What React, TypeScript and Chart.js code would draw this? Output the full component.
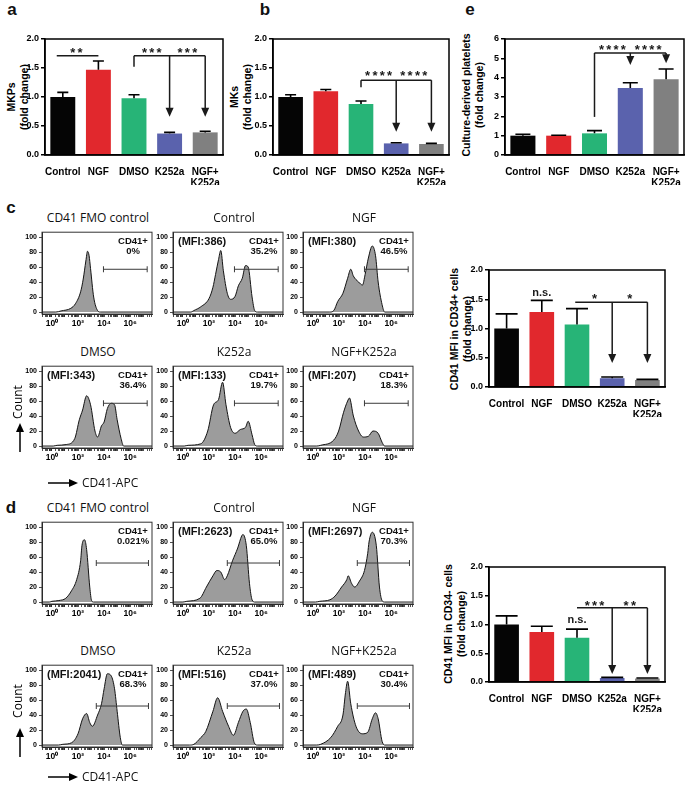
import React, { useEffect, useRef } from 'react';
import { Chart, registerables } from 'chart.js';

Chart.register(...registerables);

const SANS = '"Liberation Sans", Arial, Helvetica, sans-serif';
const LIGHT = '"Open Sans", "Noto Sans", sans-serif';
Chart.defaults.font.family = SANS;

// ---------------- bar chart data ----------------
const categories: (string | string[])[] = ['Control', 'NGF', 'DMSO', 'K252a', ['NGF+', 'K252a']];
const barColors = ['#050505', '#E1282D', '#27B477', '#5A62AD', '#808080'];

const mkpValues = [1.0, 1.47, 0.98, 0.37, 0.39];
const mkpErrors = [0.08, 0.15, 0.06, 0.02, 0.02];
const mkValues = [1.0, 1.1, 0.88, 0.2, 0.19];
const mkErrors = [0.04, 0.03, 0.05, 0.01, 0.01];
const plateletValues = [1.0, 1.0, 1.12, 3.47, 3.92];
const plateletErrors = [0.07, 0.02, 0.14, 0.27, 0.53];
const mfiPosValues = [1.0, 1.28, 1.07, 0.15, 0.12];
const mfiPosErrors = [0.25, 0.2, 0.27, 0.02, 0.01];
const mfiNegValues = [1.0, 0.87, 0.77, 0.07, 0.06];
const mfiNegErrors = [0.15, 0.1, 0.15, 0.01, 0.01];

const foldTicks = [0, 0.5, 1.0, 1.5, 2.0];
const plateletTicks = [0, 1, 2, 3, 4, 5, 6];

// ---------------- histogram data ([log10 intensity, count]) ----------------
const histXTickValues = [1, 100, 10000, 1000000];
const histXTickLabels = ['10\u2070', '10\u00B2', '10\u2074', '10\u2076'];
const histYTicks = [0, 20, 40, 60, 80, 100];

const cFmoHist = [[-0.8, 0], [0.3, 0], [0.7, 1.5], [1.45, 5], [1.8, 11], [2.2, 27], [2.4, 44], [2.6, 68], [2.73, 81], [2.85, 75], [2.96, 58], [3.2, 20], [3.5, 2], [3.7, 0], [7.7, 0]];
const cControlHist = [[-0.8, 0], [0.6, 0], [0.84, 2], [1.37, 7], [2.0, 18], [2.3, 33], [2.5, 50], [2.73, 70], [2.9, 82], [3.1, 55], [3.4, 25], [3.65, 17], [4.0, 21], [4.25, 35], [4.55, 45], [4.8, 62], [5.0, 60], [5.3, 20], [5.5, 2], [5.7, 0], [7.7, 0]];
const cNgfHist = [[-0.8, 0], [1.3, 0], [1.6, 2], [1.9, 14], [2.3, 25], [2.66, 45], [2.9, 57], [3.1, 48], [3.5, 40], [3.8, 36], [4.0, 50], [4.25, 72], [4.55, 88], [4.8, 75], [5.0, 40], [5.3, 10], [5.5, 0], [7.7, 0]];
const cDmsoHist = [[-0.8, 0], [0.1, 0], [0.4, 1], [1.1, 2], [1.75, 10], [2.1, 35], [2.35, 48], [2.66, 67], [2.96, 55], [3.3, 20], [3.5, 12], [3.8, 27], [4.0, 32], [4.25, 50], [4.55, 57], [4.8, 55], [5.0, 35], [5.3, 10], [5.5, 0], [7.7, 0]];
const cK252aHist = [[-0.8, 0], [0.1, 0], [0.4, 1], [1.37, 3], [1.9, 20], [2.35, 55], [2.73, 62], [3.04, 85], [3.3, 55], [3.65, 25], [4.0, 17], [4.4, 22], [4.8, 25], [5.0, 33], [5.3, 15], [5.5, 2], [5.7, 0], [7.7, 0]];
const cNgfK252aHist = [[-0.8, 0], [0.3, 0], [0.6, 1], [1.6, 8], [1.97, 20], [2.35, 45], [2.66, 60], [2.8, 64], [3.1, 40], [3.5, 20], [3.87, 12], [4.25, 13], [4.6, 20], [5.0, 17], [5.3, 5], [5.5, 0], [7.7, 0]];

const dFmoHist = [[-0.8, 0], [-0.2, 0], [0, 1], [0.53, 2], [1.06, 5], [1.5, 15], [1.9, 30], [2.2, 55], [2.3, 75], [2.5, 83], [2.66, 70], [2.9, 20], [3.04, 2], [3.2, 0], [7.7, 0]];
const dControlHist = [[-0.8, 0], [0.0, 0], [0.3, 1], [1.3, 5], [1.8, 20], [2.3, 35], [2.6, 42], [2.9, 40], [3.2, 30], [3.4, 35], [3.8, 55], [4.2, 72], [4.5, 88], [4.6, 90], [4.86, 75], [5.1, 25], [5.3, 3], [5.5, 0], [7.7, 0]];
const dNgfHist = [[-0.8, 0], [0.2, 0], [0.53, 1], [1.3, 3], [1.7, 8], [2.2, 20], [2.6, 30], [2.7, 35], [2.96, 25], [3.2, 20], [3.57, 28], [3.95, 42], [4.2, 65], [4.3, 80], [4.55, 93], [4.86, 75], [5.1, 20], [5.3, 2], [5.5, 0], [7.7, 0]];
const dDmsoHist = [[-0.8, 0], [0.5, 0], [0.84, 1], [1.5, 3], [2.0, 15], [2.35, 35], [2.66, 42], [2.9, 30], [3.1, 25], [3.5, 40], [3.8, 55], [4.0, 75], [4.25, 95], [4.55, 92], [4.8, 75], [5.0, 45], [5.24, 10], [5.4, 0], [7.7, 0]];
const dK252aHist = [[-0.8, 0], [0.5, 0], [0.84, 1], [1.37, 10], [1.75, 18], [2.3, 45], [2.66, 63], [3.04, 45], [3.5, 25], [3.87, 13], [4.25, 30], [4.6, 45], [4.86, 48], [5.16, 30], [5.47, 3], [5.7, 0], [7.7, 0]];
const dNgfK252aHist = [[-0.8, 0], [0.3, 0], [0.6, 1], [1.37, 10], [1.9, 25], [2.3, 40], [2.5, 70], [2.66, 85], [2.9, 55], [3.3, 25], [3.8, 15], [4.2, 17], [4.55, 35], [4.8, 43], [5.0, 35], [5.3, 5], [5.5, 0], [7.7, 0]];

const cMfi = [null, 386, 380, 343, 133, 207];
const cPct = ['0%', '35.2%', '46.5%', '36.4%', '19.7%', '18.3%'];
const dMfi = [null, 2623, 2697, 2041, 516, 489];
const dPct = ['0.021%', '65.0%', '70.3%', '68.3%', '37.0%', '30.4%'];
const histTitles = ['CD41 FMO control', 'Control', 'NGF', 'DMSO', 'K252a', 'NGF+K252a'];
// gate: [start log10, end log10, level]
const cGate = [3.95, 7.3, 57];
const dGate = [3.4, 7.4, 52];

// ---------------- plugins ----------------
const framePlugin = {
  id: 'frame',
  afterDraw(chart: any, _a: any, o: any) {
    const { ctx, chartArea: a } = chart;
    ctx.save();
    ctx.strokeStyle = o.color || '#000';
    ctx.lineWidth = o.width || 1.5;
    ctx.strokeRect(a.left, a.top, a.right - a.left, a.bottom - a.top);
    ctx.restore();
  },
};

const errPlugin = {
  id: 'errbars',
  afterDatasetsDraw(chart: any, _a: any, o: any) {
    if (!o.errors) return;
    const ctx = chart.ctx;
    const ys = chart.scales.y;
    const meta = chart.getDatasetMeta(0);
    const vals = chart.data.datasets[0].data;
    ctx.save();
    ctx.strokeStyle = '#000';
    ctx.lineWidth = 1.6;
    meta.data.forEach((bar: any, i: number) => {
      const v = vals[i];
      const e = o.errors[i];
      const x = bar.x;
      const y0 = ys.getPixelForValue(v);
      const y1 = ys.getPixelForValue(v + e);
      ctx.beginPath();
      ctx.moveTo(x, y0);
      ctx.lineTo(x, y1);
      ctx.moveTo(x - o.cap / 2, y1);
      ctx.lineTo(x + o.cap / 2, y1);
      ctx.stroke();
    });
    ctx.restore();
  },
};

const sigPlugin = {
  id: 'sig',
  afterDatasetsDraw(chart: any, _a: any, o: any) {
    const items = o.items || [];
    const xs = chart.scales.x;
    const ys = chart.scales.y;
    const ctx = chart.ctx;
    ctx.save();
    ctx.strokeStyle = '#1a1a1a';
    ctx.fillStyle = '#1a1a1a';
    ctx.lineWidth = 1.5;
    for (const a of items) {
      if (a.t === 'line') {
        const y = ys.getPixelForValue(a.y);
        ctx.beginPath();
        ctx.moveTo(xs.getPixelForValue(a.x0), y);
        ctx.lineTo(xs.getPixelForValue(a.x1), y);
        ctx.stroke();
      } else if (a.t === 'vline') {
        const x = xs.getPixelForValue(a.x);
        ctx.beginPath();
        ctx.moveTo(x, ys.getPixelForValue(a.y0));
        ctx.lineTo(x, ys.getPixelForValue(a.y1));
        ctx.stroke();
      } else if (a.t === 'arrow') {
        const x = xs.getPixelForValue(a.x);
        const y0 = ys.getPixelForValue(a.y0);
        const y1 = ys.getPixelForValue(a.y1);
        ctx.beginPath();
        ctx.moveTo(x, y0);
        ctx.lineTo(x, y1 - 6);
        ctx.stroke();
        ctx.beginPath();
        ctx.moveTo(x - 4, y1 - 9);
        ctx.lineTo(x + 4, y1 - 9);
        ctx.lineTo(x, y1);
        ctx.closePath();
        ctx.fill();
      } else if (a.t === 'stars') {
        const cx = xs.getPixelForValue(a.x);
        const y = ys.getPixelForValue(a.y);
        ctx.font = `bold 13px ${SANS}`;
        ctx.textAlign = 'center';
        ctx.textBaseline = 'middle';
        for (let k = 0; k < a.n; k++) {
          ctx.fillText('*', cx + (k - (a.n - 1) / 2) * 7.3, y + 3);
        }
      } else if (a.t === 'text') {
        const cx = xs.getPixelForValue(a.x);
        const y = ys.getPixelForValue(a.y);
        ctx.font = `bold 11px ${SANS}`;
        ctx.textAlign = 'center';
        ctx.textBaseline = 'middle';
        ctx.fillText(a.s, cx, y);
      }
    }
    ctx.restore();
  },
};

const histTextPlugin = {
  id: 'histText',
  afterDatasetsDraw(chart: any, _a: any, o: any) {
    const { ctx, chartArea: a } = chart;
    const xs = chart.scales.x;
    const ys = chart.scales.y;
    ctx.save();
    const gy = ys.getPixelForValue(o.gate[2]);
    const gx0 = xs.getPixelForValue(Math.pow(10, o.gate[0]));
    const gx1 = xs.getPixelForValue(Math.pow(10, o.gate[1]));
    ctx.strokeStyle = '#3a3a3a';
    ctx.lineWidth = 1;
    ctx.beginPath();
    ctx.moveTo(gx0, gy);
    ctx.lineTo(gx1, gy);
    ctx.moveTo(gx0, gy - 3);
    ctx.lineTo(gx0, gy + 3);
    ctx.moveTo(gx1, gy - 3);
    ctx.lineTo(gx1, gy + 3);
    ctx.stroke();
    ctx.fillStyle = '#111';
    ctx.textBaseline = 'middle';
    ctx.textAlign = 'center';
    ctx.font = `bold 9.5px ${SANS}`;
    ctx.fillText('CD41+', a.right - 19, a.top + 9);
    ctx.fillText(o.pct, a.right - 19, a.top + 19);
    if (o.mfi) {
      ctx.textAlign = 'left';
      ctx.font = `bold 11px ${SANS}`;
      ctx.fillText(`(MFI:${o.mfi})`, a.left + 5, a.top + 10);
    }
    ctx.restore();
  },
};

// ---------------- bar panels ----------------
type BarSpec = {
  L: number; R: number; T: number; B: number;
  values: number[]; errors: number[]; ticks: number[]; decimals: number; cap: number; anns: any[];
};

const BYW = 30, BXH = 30, BPT = 8, BPR = 2;

function makeBar(canvas: HTMLCanvasElement, p: BarSpec) {
  return new Chart(canvas, {
    type: 'bar',
    data: {
      labels: categories as any,
      datasets: [{ data: p.values, backgroundColor: barColors, borderWidth: 0, barPercentage: 0.7, categoryPercentage: 1 }],
    },
    options: {
      responsive: false,
      animation: false,
      devicePixelRatio: 1,
      layout: { autoPadding: false, padding: { left: 0, top: BPT, right: BPR, bottom: 0 } },
      plugins: {
        legend: { display: false },
        tooltip: { enabled: false },
        errbars: { errors: p.errors, cap: p.cap },
        sig: { items: p.anns },
        frame: { width: 1.5, color: '#000' },
      } as any,
      scales: {
        x: {
          grid: { display: false },
          border: { color: '#000', width: 1.5 },
          ticks: { color: '#000', font: { family: SANS, size: 10, weight: 'bold', lineHeight: 1.1 }, padding: 4, maxRotation: 0, autoSkip: false },
          afterFit: (s: any) => { s.height = BXH; },
        },
        y: {
          min: p.ticks[0],
          max: p.ticks[p.ticks.length - 1],
          afterBuildTicks: (s: any) => { s.ticks = p.ticks.map((v) => ({ value: v })); },
          ticks: { color: '#000', font: { family: SANS, size: 9, weight: 'bold' }, padding: 2, callback: (v: any) => Number(v).toFixed(p.decimals) },
          grid: { drawOnChartArea: false, drawTicks: true, tickLength: 4, color: '#000', lineWidth: 1.5 },
          border: { color: '#000', width: 1.5 },
          afterFit: (s: any) => { s.width = BYW; },
        },
      } as any,
    },
    plugins: [framePlugin, errPlugin, sigPlugin],
  } as any);
}

function BarPanel({ p }: { p: BarSpec }) {
  const ref = useRef<HTMLCanvasElement>(null);
  const w = BYW + (p.R - p.L) + BPR;
  const h = BPT + (p.B - p.T) + BXH;
  useEffect(() => {
    const c = makeBar(ref.current!, p);
    return () => c.destroy();
  }, []);
  return <canvas ref={ref} width={w} height={h} style={{ position: 'absolute', left: p.L - BYW, top: p.T - BPT, width: w, height: h }} />;
}

const barA: BarSpec = {
  L: 45, R: 223, T: 39, B: 155, values: mkpValues, errors: mkpErrors, ticks: foldTicks, decimals: 1, cap: 11,
  anns: [
    { t: 'line', x0: -0.17, x1: 1.0, y: 1.71 },
    { t: 'stars', x: 0.38, y: 1.81, n: 2 },
    { t: 'vline', x: 2, y0: 1.52, y1: 1.71 },
    { t: 'line', x0: 2, x1: 4, y: 1.71 },
    { t: 'arrow', x: 3, y0: 1.71, y1: 0.66 },
    { t: 'arrow', x: 4, y0: 1.71, y1: 0.66 },
    { t: 'stars', x: 2.5, y: 1.81, n: 3 },
    { t: 'stars', x: 3.5, y: 1.81, n: 3 },
  ],
};
const barB: BarSpec = {
  L: 273, R: 449, T: 39, B: 155, values: mkValues, errors: mkErrors, ticks: foldTicks, decimals: 1, cap: 11,
  anns: [
    { t: 'vline', x: 2, y0: 1.17, y1: 1.29 },
    { t: 'line', x0: 2, x1: 4, y: 1.29 },
    { t: 'arrow', x: 3, y0: 1.29, y1: 0.4 },
    { t: 'arrow', x: 4, y0: 1.29, y1: 0.4 },
    { t: 'stars', x: 2.5, y: 1.41, n: 4 },
    { t: 'stars', x: 3.5, y: 1.41, n: 4 },
  ],
};
const barE: BarSpec = {
  L: 505, R: 684, T: 39, B: 155, values: plateletValues, errors: plateletErrors, ticks: plateletTicks, decimals: 0, cap: 15,
  anns: [
    { t: 'vline', x: 2, y0: 1.97, y1: 5.28 },
    { t: 'line', x0: 2, x1: 4, y: 5.28 },
    { t: 'arrow', x: 3, y0: 5.28, y1: 4.65 },
    { t: 'arrow', x: 4, y0: 5.28, y1: 4.75 },
    { t: 'stars', x: 2.5, y: 5.55, n: 4 },
    { t: 'stars', x: 3.5, y: 5.55, n: 4 },
  ],
};
const barC: BarSpec = {
  L: 489, R: 665, T: 270, B: 387, values: mfiPosValues, errors: mfiPosErrors, ticks: foldTicks, decimals: 1, cap: 22,
  anns: [
    { t: 'text', x: 1, y: 1.6, s: 'n.s.' },
    { t: 'line', x0: 1.95, x1: 4, y: 1.45 },
    { t: 'arrow', x: 3, y0: 1.45, y1: 0.41 },
    { t: 'arrow', x: 4, y0: 1.45, y1: 0.41 },
    { t: 'stars', x: 2.5, y: 1.54, n: 1 },
    { t: 'stars', x: 3.5, y: 1.54, n: 1 },
  ],
};
const barD: BarSpec = {
  L: 489, R: 665, T: 567, B: 682, values: mfiNegValues, errors: mfiNegErrors, ticks: foldTicks, decimals: 1, cap: 22,
  anns: [
    { t: 'text', x: 2, y: 1.08, s: 'n.s.' },
    { t: 'line', x0: 2, x1: 4, y: 1.29 },
    { t: 'arrow', x: 3, y0: 1.29, y1: 0.14 },
    { t: 'arrow', x: 4, y0: 1.29, y1: 0.14 },
    { t: 'stars', x: 2.5, y: 1.37, n: 3 },
    { t: 'stars', x: 3.5, y: 1.37, n: 2 },
  ],
};

// ---------------- histogram panels ----------------
const HYW = 22, HXH = 20, HPT = 3, HPR = 6, HBW = 110, HBH = 85;
const HIST_MIN = Math.pow(10, -0.76);
const HIST_MAX = Math.pow(10, 7.67);

type HistSpec = { L: number; T: number; pts: number[][]; mfi: number | null; pct: string; gate: number[] };

function makeHist(canvas: HTMLCanvasElement, h: HistSpec) {
  return new Chart(canvas, {
    type: 'line',
    data: {
      datasets: [{
        data: h.pts.map(([d, c]) => ({ x: Math.pow(10, d), y: c })),
        borderColor: '#151515',
        borderWidth: 1,
        backgroundColor: '#9c9c9c',
        fill: 'origin',
        pointRadius: 0,
        cubicInterpolationMode: 'monotone',
      }],
    },
    options: {
      responsive: false,
      animation: false,
      devicePixelRatio: 1,
      layout: { autoPadding: false, padding: { left: 0, top: HPT, right: HPR, bottom: 0 } },
      plugins: {
        legend: { display: false },
        tooltip: { enabled: false },
        frame: { width: 1, color: '#333' },
        histText: { gate: h.gate, mfi: h.mfi, pct: h.pct },
      } as any,
      scales: {
        x: {
          type: 'logarithmic',
          min: HIST_MIN,
          max: HIST_MAX,
          afterBuildTicks: (s: any) => {
            const t: any[] = [];
            for (let k = -1; k <= 7; k++) {
              for (let m = 1; m <= 9; m++) {
                const v = m * Math.pow(10, k);
                if (v >= HIST_MIN && v <= HIST_MAX) t.push({ value: v });
              }
            }
            s.ticks = t;
          },
          ticks: {
            autoSkip: false,
            maxRotation: 0,
            padding: 2,
            color: '#000',
            font: { family: SANS, size: 8.5, weight: 'bold' },
            callback: (v: any) => {
              const i = histXTickValues.findIndex((tv) => Math.abs(Math.log10(Number(v)) - Math.log10(tv)) < 1e-6);
              return i >= 0 ? histXTickLabels[i] : '';
            },
          },
          grid: { drawOnChartArea: false, drawTicks: true, tickLength: 3, color: '#222', lineWidth: 0.8 },
          border: { color: '#222', width: 1 },
          afterFit: (s: any) => { s.height = HXH; },
        },
        y: {
          min: -2.6,
          max: 106.4,
          afterBuildTicks: (s: any) => {
            const t: any[] = [];
            for (let v = 0; v <= 100; v += 10) t.push({ value: v });
            s.ticks = t;
          },
          ticks: {
            color: '#000',
            padding: 2,
            font: { family: SANS, size: 7, weight: 'bold' },
            callback: (v: any) => (histYTicks.includes(Number(v)) ? String(v) : ''),
          },
          grid: { drawOnChartArea: false, drawTicks: true, tickLength: 3, color: '#222', lineWidth: 0.8 },
          border: { color: '#222', width: 1 },
          afterFit: (s: any) => { s.width = HYW; },
        },
      } as any,
    },
    plugins: [framePlugin, histTextPlugin],
  } as any);
}

function HistPanel({ h }: { h: HistSpec }) {
  const ref = useRef<HTMLCanvasElement>(null);
  const w = HYW + HBW + HPR;
  const hh = HPT + HBH + HXH;
  useEffect(() => {
    const c = makeHist(ref.current!, h);
    return () => c.destroy();
  }, []);
  return <canvas ref={ref} width={w} height={hh} style={{ position: 'absolute', left: h.L - HYW, top: h.T - HPT, width: w, height: hh }} />;
}

const colLefts = [42, 173, 303];
const titleCenters = [98, 234, 364];
const cRowTops = [229, 363];
const dRowTops = [519, 662];
const cHists = [cFmoHist, cControlHist, cNgfHist, cDmsoHist, cK252aHist, cNgfK252aHist];
const dHists = [dFmoHist, dControlHist, dNgfHist, dDmsoHist, dK252aHist, dNgfK252aHist];

const histSpecs: HistSpec[] = [];
for (let i = 0; i < 6; i++) {
  histSpecs.push({ L: colLefts[i % 3], T: cRowTops[Math.floor(i / 3)], pts: cHists[i], mfi: cMfi[i], pct: cPct[i], gate: cGate });
}
for (let i = 0; i < 6; i++) {
  histSpecs.push({ L: colLefts[i % 3], T: dRowTops[Math.floor(i / 3)], pts: dHists[i], mfi: dMfi[i], pct: dPct[i], gate: dGate });
}

// ---------------- text helpers ----------------
function Txt({ x, y, children, font }: { x: number; y: number; children: any; font: string }) {
  return (
    <div style={{ position: 'absolute', left: x, top: y, transform: 'translate(-50%,-50%)', whiteSpace: 'nowrap', font, lineHeight: 1, color: '#111' }}>
      {children}
    </div>
  );
}

function VTxt({ x, y, text, font }: { x: number; y: number; text: string; font: string }) {
  return (
    <div style={{ position: 'absolute', left: x, top: y, transform: 'translate(-50%,-50%) rotate(-90deg)', whiteSpace: 'nowrap', font, lineHeight: 1, color: '#000' }}>
      {text}
    </div>
  );
}

function UpArrow({ x, y0, y1 }: { x: number; y0: number; y1: number }) {
  return (
    <svg style={{ position: 'absolute', left: x - 5, top: y1, overflow: 'visible' }} width={10} height={y0 - y1}>
      <line x1={5} y1={6} x2={5} y2={y0 - y1} stroke="#000" strokeWidth={1.5} />
      <polygon points={`1,9 9,9 5,0`} fill="#000" />
    </svg>
  );
}

function RightArrow({ x0, x1, y }: { x0: number; x1: number; y: number }) {
  return (
    <svg style={{ position: 'absolute', left: x0, top: y - 5, overflow: 'visible' }} width={x1 - x0} height={10}>
      <line x1={0} y1={5} x2={x1 - x0 - 6} y2={5} stroke="#000" strokeWidth={1.5} />
      <polygon points={`${x1 - x0 - 9},1 ${x1 - x0 - 9},9 ${x1 - x0},5`} fill="#000" />
    </svg>
  );
}

export default function App() {
  const letter = `bold 17px ${SANS}`;
  const axisTitle = `bold 10.5px ${SANS}`;
  const light = `12px ${LIGHT}`;
  return (
    <div style={{ position: 'absolute', left: 0, top: 0, width: 685, height: 787, background: '#fff', overflow: 'hidden' }}>
      <Txt x={12} y={9} font={letter}>a</Txt>
      <Txt x={265} y={9} font={letter}>b</Txt>
      <Txt x={470} y={9} font={letter}>e</Txt>
      <Txt x={11} y={207} font={letter}>c</Txt>
      <Txt x={11} y={507} font={letter}>d</Txt>

      <VTxt x={11} y={97} text="MKPs" font={axisTitle} />
      <VTxt x={23.5} y={97} text="(fold change)" font={axisTitle} />
      <VTxt x={234} y={97} text="MKs" font={axisTitle} />
      <VTxt x={246.5} y={97} text="(fold change)" font={axisTitle} />
      <VTxt x={466} y={95} text="Culture-derived platelets" font={axisTitle} />
      <VTxt x={478.5} y={95} text="(fold change)" font={axisTitle} />
      <VTxt x={454} y={329} text="CD41 MFI in CD34+ cells" font={axisTitle} />
      <VTxt x={466.5} y={329} text="(fold change)" font={axisTitle} />
      <VTxt x={448} y={624} text="CD41 MFI in CD34- cells" font={axisTitle} />
      <VTxt x={460.5} y={624} text="(fold change)" font={axisTitle} />

      <BarPanel p={barA} />
      <BarPanel p={barB} />
      <BarPanel p={barE} />
      <BarPanel p={barC} />
      <BarPanel p={barD} />

      {histSpecs.map((h, i) => (
        <HistPanel key={i} h={h} />
      ))}
      {histSpecs.map((h, i) => (
        <Txt key={'t' + i} x={titleCenters[i % 3]} y={h.T - 11} font={light}>{histTitles[i % 6]}</Txt>
      ))}

      <VTxt x={18} y={402} text="Count" font={light} />
      <UpArrow x={20} y0={452} y1={423} />
      <RightArrow x0={48} x1={78} y={483} />
      <div style={{ position: 'absolute', left: 82, top: 483, transform: 'translateY(-50%)', font: light, lineHeight: 1, color: '#111', whiteSpace: 'nowrap' }}>CD41-APC</div>

      <VTxt x={18} y={701} text="Count" font={light} />
      <UpArrow x={20} y0={757} y1={728} />
      <RightArrow x0={48} x1={78} y={777} />
      <div style={{ position: 'absolute', left: 82, top: 777, transform: 'translateY(-50%)', font: light, lineHeight: 1, color: '#111', whiteSpace: 'nowrap' }}>CD41-APC</div>
    </div>
  );
}
